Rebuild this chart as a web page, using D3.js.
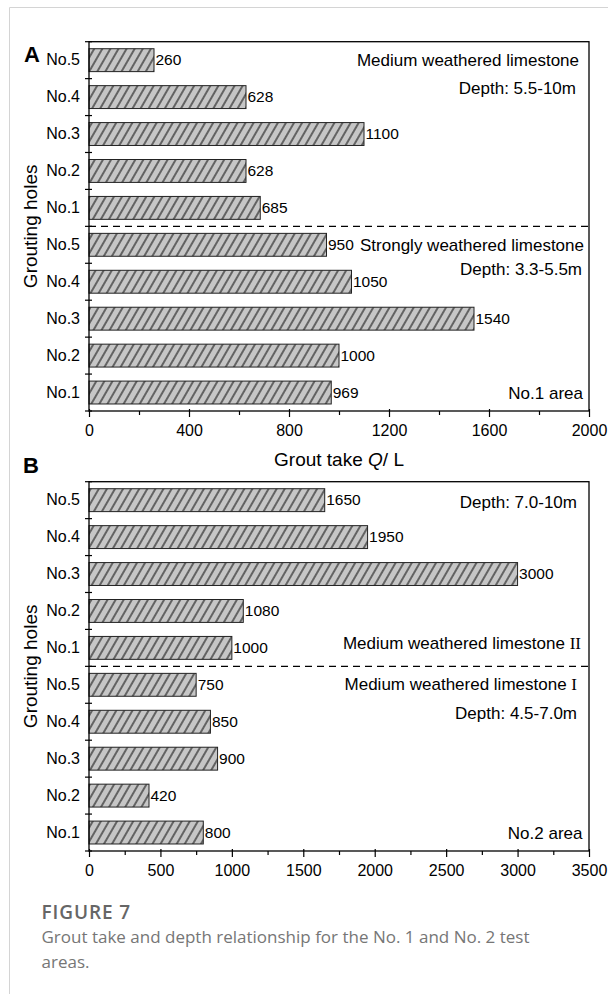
<!DOCTYPE html>
<html>
<head>
<meta charset="utf-8">
<script src="https://cdn.jsdelivr.net/npm/d3@7"></script>
<style>
  html, body { margin: 0; padding: 0; background: #fff; }
  svg { display: block; }
  text { font-family: "Liberation Sans", Arial, sans-serif; fill: #000; }
</style>
</head>
<body>
<svg id="chart" width="608" height="994"></svg>
<script>
// ---------- data ----------
const holeLabels = ["No.5", "No.4", "No.3", "No.2", "No.1", "No.5", "No.4", "No.3", "No.2", "No.1"];
const area1Values = [260, 628, 1100, 628, 685, 950, 1050, 1540, 1000, 969];
const area2Values = [1650, 1950, 3000, 1080, 1000, 750, 850, 900, 420, 800];
const area1Ticks = [0, 400, 800, 1200, 1600, 2000];
const area1Minor = [200, 600, 1000, 1400, 1800];
const area2Ticks = [0, 500, 1000, 1500, 2000, 2500, 3000, 3500];
const area2Minor = [250, 750, 1250, 1750, 2250, 2750, 3250];
const area1Notes = [
  { text: "Medium weathered limestone", row: 0, dy: 6, x: 579 },
  { text: "Depth: 5.5-10m", row: 0, dy: 34, x: 576 },
  { text: "Strongly weathered limestone", row: 5, dy: 6, x: 584 },
  { text: "Depth: 3.3-5.5m", row: 5, dy: 30, x: 582 },
  { text: "No.1 area", row: 9, dy: 6, x: 583 }
];
const area2Notes = [
  { text: "Depth: 7.0-10m", row: 0, dy: 8, x: 577 },
  { text: "Medium weathered limestone", roman: "II", row: 4, dy: 1.5, x: 581 },
  { text: "Medium weathered limestone", roman: "I", row: 5, dy: 5, x: 577 },
  { text: "Depth: 4.5-7.0m", row: 5, dy: 34, x: 577 },
  { text: "No.2 area", row: 9, dy: 6, x: 582.5 }
];

const FONT = '"Liberation Sans", Arial, sans-serif';
const svg = d3.select("#chart");

// page frame
svg.append("path").attr("d", "M9.5,994 V7.5 H608").attr("fill", "none")
  .attr("stroke", "#d4d4d4").attr("stroke-width", 1);

// hatch pattern
const defs = svg.append("defs");
const pat = defs.append("pattern").attr("id", "hatch")
  .attr("patternUnits", "userSpaceOnUse").attr("width", 7).attr("height", 7)
  .attr("patternTransform", "rotate(30)");
pat.append("rect").attr("width", 7).attr("height", 7).attr("fill", "#c6c6c6");
pat.append("line").attr("x1", 1).attr("x2", 1).attr("y1", 0).attr("y2", 7)
  .attr("stroke", "#000").attr("stroke-width", 1);

const left = 89, right = 589;

function panel(cfg) {
  const g = svg.append("g");
  const x = d3.scaleLinear().domain(cfg.domain).range([left, right]);
  const y = d3.scaleBand().domain(d3.range(cfg.values.length))
    .range([cfg.top, cfg.bottom]).paddingInner(0.38).paddingOuter(0.19);
  const step = y.step();

  // bars
  g.selectAll("rect.bar").data(cfg.values).join("rect").attr("class", "bar")
    .attr("x", x(0)).attr("y", (d, i) => y(i))
    .attr("width", d => x(d) - x(0)).attr("height", y.bandwidth())
    .attr("fill", "url(#hatch)").attr("stroke", "#222").attr("stroke-width", 1);

  // value labels
  g.selectAll("text.val").data(cfg.values).join("text").attr("class", "val")
    .attr("x", d => x(d) + 1.5).attr("y", (d, i) => y(i) + y.bandwidth() / 2)
    .attr("dy", "0.34em").style("font-size", "15.5px").style("font-family", FONT).text(d => d);

  // dashed separator between the two layers
  const sepY = cfg.top + 5 * step;
  g.append("line").attr("x1", left).attr("x2", right).attr("y1", sepY).attr("y2", sepY)
    .attr("stroke", "#000").attr("stroke-width", 1.2).attr("stroke-dasharray", "7,5");

  // frame
  g.append("rect").attr("x", left).attr("y", cfg.top)
    .attr("width", right - left).attr("height", cfg.bottom - cfg.top)
    .attr("fill", "none").attr("stroke", "#000").attr("stroke-width", 1.3);

  // y tick marks at band boundaries
  g.selectAll("line.ytick").data(d3.range(cfg.values.length + 1)).join("line")
    .attr("class", "ytick")
    .attr("x1", left - 4).attr("x2", left + 3)
    .attr("y1", i => cfg.top + i * step).attr("y2", i => cfg.top + i * step)
    .attr("stroke", "#000").attr("stroke-width", 1.2);

  // y labels
  const yAxis = g.append("g").attr("transform", `translate(${left},0)`)
    .call(d3.axisLeft(y).tickSize(0).tickPadding(9).tickFormat(i => holeLabels[i]));
  yAxis.select(".domain").remove();
  yAxis.selectAll("text").style("font-size", "16px").style("font-family", FONT).attr("fill", "#000");

  // x axis
  const xAxis = g.append("g").attr("transform", `translate(0,${cfg.bottom})`)
    .call(d3.axisBottom(x).tickValues(cfg.ticks).tickFormat(d3.format("d")).tickSize(6).tickPadding(7.6));
  xAxis.select(".domain").remove();
  xAxis.selectAll(".tick line").attr("y1", -2).attr("stroke-width", 1.2);
  xAxis.selectAll("text").style("font-size", "16px").style("font-family", FONT).attr("fill", "#000");
  const xMinor = g.append("g").attr("transform", `translate(0,${cfg.bottom})`)
    .call(d3.axisBottom(x).tickValues(cfg.minor).tickSize(4).tickFormat(""));
  xMinor.select(".domain").remove();
  xMinor.selectAll(".tick line").attr("stroke-width", 1.2);

  // annotations
  cfg.notes.forEach(n => {
    const t = g.append("text").attr("x", n.x)
      .attr("y", cfg.top + (n.row + 0.5) * step + n.dy)
      .attr("text-anchor", "end").style("font-size", "17px").style("font-family", FONT).text(n.text);
    if (n.roman) {
      t.append("tspan").text(" ");
      t.append("tspan").style("font-family", '"Liberation Serif", "Times New Roman", serif')
        .text(n.roman);
    }
  });

  // y title
  g.append("text")
    .attr("transform", `translate(37,${(cfg.top + cfg.bottom) / 2}) rotate(-90)`)
    .attr("text-anchor", "middle").style("font-size", "19px").style("font-family", FONT).text("Grouting holes");

  // panel letter
  g.append("text").attr("x", cfg.letterX).attr("y", cfg.letterY)
    .style("font-size", "22px").style("font-weight", "bold").style("font-family", FONT).text(cfg.letter);
  return g;
}

panel({ values: area1Values, domain: [0, 2000], ticks: area1Ticks, minor: area1Minor,
  top: 41.7, bottom: 411, notes: area1Notes, letter: "A", letterX: 24, letterY: 62 });
panel({ values: area2Values, domain: [0, 3500], ticks: area2Ticks, minor: area2Minor,
  top: 481.7, bottom: 851, notes: area2Notes, letter: "B", letterX: 23, letterY: 473 });

// x title (panel A)
const xt = svg.append("text").attr("x", (left + right) / 2).attr("y", 465.5)
  .attr("text-anchor", "middle").style("font-size", "19px").style("font-family", FONT);
xt.append("tspan").text("Grout take ");
xt.append("tspan").style("font-style", "italic").text("Q");
xt.append("tspan").text("/ L");

// caption
svg.append("text").attr("x", 41.5).attr("y", 919)
  .style("font-family", '"Open Sans", sans-serif').style("font-size", "19px")
  .style("letter-spacing", "0.9px")
  .style("font-weight", 600).style("fill", "#666666").text("FIGURE 7");
const cap = svg.append("text").style("font-family", '"Open Sans", sans-serif')
  .style("font-size", "17px").style("fill", "#767676");
cap.append("tspan").attr("x", 41.5).attr("y", 943)
  .text("Grout take and depth relationship for the No. 1 and No. 2 test");
cap.append("tspan").attr("x", 41.5).attr("y", 968).text("areas.");
</script>
</body>
</html>
